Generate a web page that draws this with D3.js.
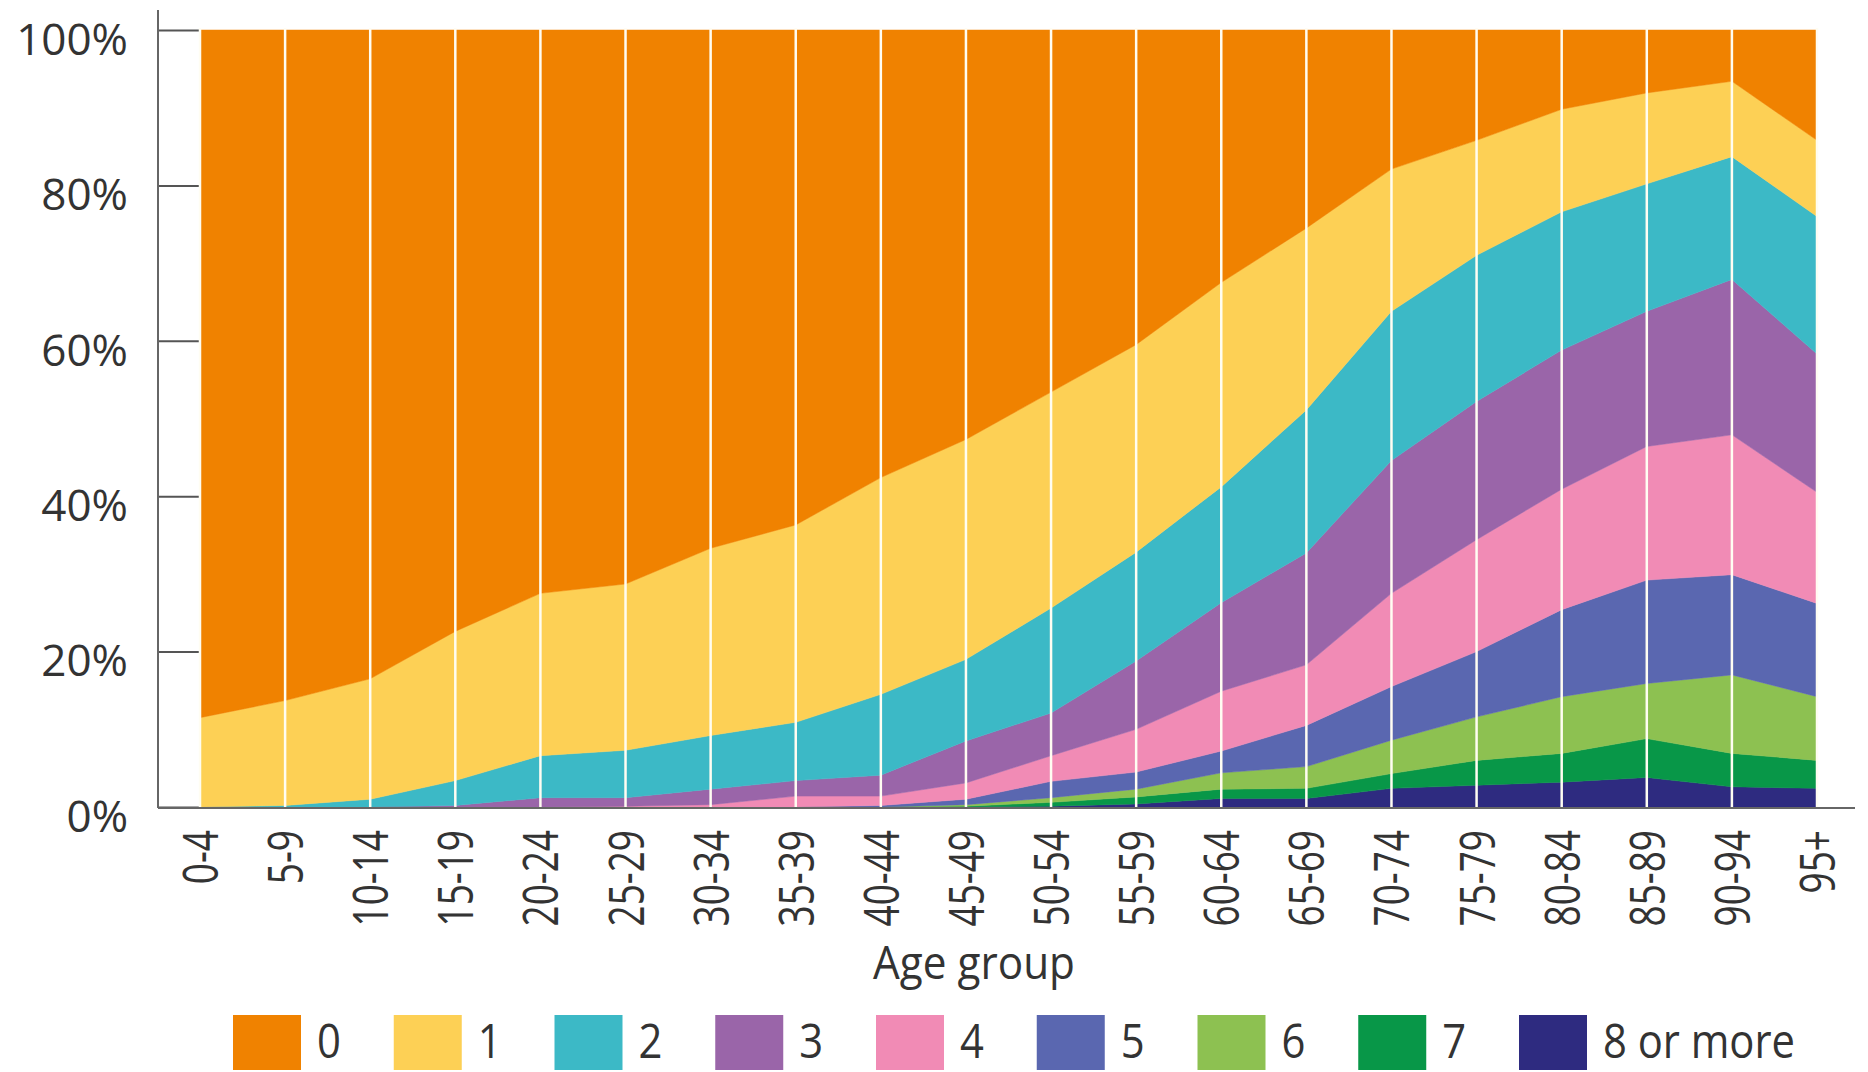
<!DOCTYPE html>
<html>
<head>
<meta charset="utf-8">
<script src="https://cdn.jsdelivr.net/npm/d3@7/dist/d3.min.js"></script>
<style>
  html, body { margin: 0; padding: 0; background: #fff; }
  svg { display: block; }
  text { font-family: "Open Sans", "Noto Sans", sans-serif; fill: #333; }
</style>
</head>
<body>
<svg id="chart" width="1868" height="1072"></svg>
<script>
// ---- Data (percent of people in each age group by number of conditions) ----
const ageGroups = ["0-4","5-9","10-14","15-19","20-24","25-29","30-34","35-39","40-44","45-49",
                   "50-54","55-59","60-64","65-69","70-74","75-79","80-84","85-89","90-94","95+"];
const seriesKeys = ["0","1","2","3","4","5","6","7","8 or more"];
const s0 = [88.5,86.3,83.5,77.4,72.5,71.3,66.7,63.7,57.6,52.7,46.6,40.5,32.5,25.5,17.9,14.2,10.2,8.1,6.6,14.2];
const s1 = [11.5,13.5,15.5,19.2,20.9,21.4,24.1,25.4,27.9,28.3,27.8,26.7,26.3,23.4,18.3,14.8,13.2,11.7,9.7,9.8];
const s2 = [0,0.2,1.0,3.2,5.4,6.1,6.9,7.5,10.4,10.5,13.5,14.0,14.9,18.4,19.2,18.8,17.8,16.4,15.8,17.7];
const s3 = [0,0,0,0.2,1.2,1.1,2.0,2.0,2.7,5.4,5.5,8.8,11.4,14.4,17.1,17.8,17.9,17.4,20.0,17.8];
const s4 = [0,0,0,0,0,0.1,0.3,1.4,1.2,2.1,3.3,5.5,7.7,7.8,12.0,14.4,15.5,17.2,18.0,14.3];
const s5 = [0,0,0,0,0,0,0,0,0.2,0.7,2.1,2.2,2.8,5.3,6.9,8.4,11.2,13.3,12.9,12.0];
const s6 = [0,0,0,0,0,0,0,0,0,0.2,0.6,1.0,2.1,2.8,4.3,5.6,7.3,7.1,10.1,8.2];
const s7 = [0,0,0,0,0,0,0,0,0,0.1,0.5,0.9,1.2,1.3,1.9,3.2,3.7,5.0,4.3,3.6];
const s8 = [0,0,0,0,0,0,0,0,0,0,0.1,0.4,1.1,1.1,2.4,2.8,3.2,3.8,2.6,2.4];
const seriesValues = [s0,s1,s2,s3,s4,s5,s6,s7,s8];
const colors = ["#F08200","#FDD055","#3CB9C6","#9A65A9","#F18BB5","#5A67B0","#8DC151","#089748","#2E2B80"];
const yTicks = [0,20,40,60,80,100];
const xTitle = "Age group";

// ---- Build table ----
const table = ageGroups.map((g, i) => {
  const row = { group: g };
  seriesKeys.forEach((k, j) => row[k] = seriesValues[j][i]);
  return row;
});

const svg = d3.select("#chart");
const x = d3.scalePoint().domain(ageGroups).range([200, 1817]);
const y = d3.scaleLinear().domain([0, 100]).range([807, 30]);
const axisX = 158;

// Stack: bottom = "8 or more", top = "0"
const stackKeys = seriesKeys.slice().reverse();
const stack = d3.stack().keys(stackKeys);
const layers = stack(table);
const colorOf = k => colors[seriesKeys.indexOf(k)];

// y ticks (inward, drawn beneath areas)
const yAxis = d3.axisLeft(y).tickValues(yTicks).tickSize(-42).tickPadding(30)
  .tickFormat(d => d + "%");
const gy = svg.append("g").attr("transform", `translate(${axisX},0)`).call(yAxis);
gy.select(".domain").remove();
gy.selectAll(".tick line").attr("stroke", "#555").attr("stroke-width", 2);
gy.selectAll(".tick text")
  .attr("font-size", 44)
  .attr("fill", "#383838")
  .attr("dy", "0.55em")
  .style("font-family", '"Open Sans", sans-serif');

// areas
const area = d3.area()
  .x(d => x(d.data.group))
  .y0(d => y(d[0]))
  .y1(d => y(d[1]))
  .curve(d3.curveLinear);

svg.append("g").selectAll("path")
  .data(layers)
  .join("path")
  .attr("d", area)
  .attr("fill", d => colorOf(d.key))
  .attr("stroke", d => colorOf(d.key))
  .attr("stroke-width", 0.5)
  .attr("stroke-linejoin", "round");

// white vertical separators at each age group
svg.append("g").selectAll("line")
  .data(ageGroups)
  .join("line")
  .attr("x1", d => x(d)).attr("x2", d => x(d))
  .attr("y1", y(100) - 2).attr("y2", y(0))
  .attr("stroke", "#fffdf2")
  .attr("stroke-width", 2.5);

// axis lines
svg.append("line").attr("x1", axisX).attr("x2", axisX).attr("y1", 10).attr("y2", y(0) + 1)
  .attr("stroke", "#666").attr("stroke-width", 2);
svg.append("line").attr("x1", axisX).attr("x2", 1855).attr("y1", y(0) + 1).attr("y2", y(0) + 1)
  .attr("stroke", "#666").attr("stroke-width", 2);

// x tick labels (rotated, condensed)
svg.append("g").selectAll("text")
  .data(ageGroups)
  .join("text")
  .attr("transform", d => `translate(${x(d)},830) rotate(-90) scale(0.74,1)`)
  .attr("text-anchor", "end")
  .attr("dy", "0.36em")
  .attr("font-size", 50)
  .text(d => d);

// x title
svg.append("text")
  .attr("transform", "translate(974,979) scale(0.92,1)")
  .attr("text-anchor", "middle")
  .attr("font-size", 46)
  .text(xTitle);

// legend
const legend = svg.append("g").selectAll("g")
  .data(seriesKeys)
  .join("g")
  .attr("transform", (d, i) => `translate(${233 + i * 160.75},1015)`);
legend.append("rect")
  .attr("width", 68).attr("height", 55)
  .attr("fill", (d, i) => colors[i]);
legend.append("text")
  .attr("transform", "translate(84,43) scale(0.87,1)")
  .attr("font-size", 48)
  .text(d => d);
</script>
</body>
</html>
